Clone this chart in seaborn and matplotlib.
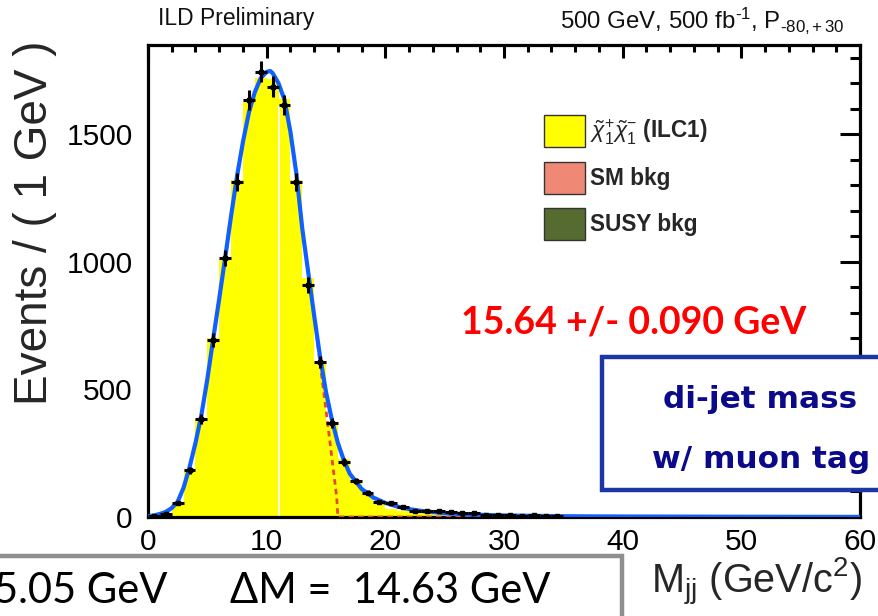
import numpy as np
import pandas as pd
import matplotlib
matplotlib.use("Agg")
import matplotlib.pyplot as plt
import seaborn as sns
from matplotlib.patches import Rectangle, Patch
from matplotlib.ticker import MultipleLocator

# ---------------- data ----------------
bin_centers = np.arange(0.5, 60, 1.0)

# data points (events / 1 GeV)
data_x = [0.5, 1.5, 2.5, 3.5, 4.5, 5.5, 6.5, 7.5, 8.5, 9.5, 10.5, 11.5, 12.5, 13.5,
          14.5, 15.5, 16.5, 17.5, 18.5, 19.5, 20.5, 21.5, 22.5, 23.5, 24.5, 25.5,
          26.5, 27.5, 28.5, 29.5, 30.5, 31.5, 32.5, 33.5, 34.5]
data_y = [3, 12, 55, 184, 386, 693, 1014, 1314, 1634, 1745, 1687, 1615, 1314, 909,
          608, 369, 216, 140, 95, 58, 55, 38, 25, 22, 24, 18,
          14, 15, 9, 8, 6, 5, 6, 4, 3]

# stacked MC histograms (per 1 GeV bin, first 30 bins; rest zero)
signal_counts = [3, 15, 60, 190, 385, 700, 1010, 1320, 1625, 1720, 1715, 1640, 1320, 935,
                 605, 372, 225, 144, 93, 54, 30, 22, 20, 18, 5, 3, 2, 1, 1, 0]
sm_bkg_counts = [0, 0, 0, 0, 0, 0, 0, 0, 0, 0, 0, 0, 0, 0,
                 0, 1, 1, 1, 1, 1, 1, 1, 1, 1, 1, 1, 0, 0, 0, 0]
susy_bkg_counts = [0, 0, 0, 0, 0, 0, 0, 0, 0, 0, 0, 0, 0, 0,
                   0, 0, 0, 1, 1, 1, 1, 1, 0, 0, 0, 0, 0, 0, 0, 0]

# total fit (blue line)
fit_x = [0, 0.5, 1, 1.5, 2, 2.5, 3, 3.5, 4, 4.5, 5, 5.5, 6, 6.5, 7, 7.5, 8, 8.5, 9, 9.5,
         10, 10.3, 10.5, 11, 11.5, 12, 12.5, 13, 13.5, 14, 14.5, 15, 15.5, 16, 16.5, 17,
         18, 19, 20, 21, 22, 23, 24, 25, 27, 30, 35, 40, 50, 60]
fit_y = [3, 6, 12, 20, 35, 60, 115, 195, 290, 400, 540, 700, 855, 1015, 1180, 1335, 1470,
         1585, 1665, 1720, 1745, 1748, 1740, 1700, 1635, 1510, 1347, 1130, 960, 790, 628,
         490, 380, 290, 223, 170, 110, 76, 55, 41, 31, 24, 19, 15, 10, 6, 3, 2, 1, 0.5]

# signal-only component (red dashed)
sig_x = [0, 0.5, 1, 1.5, 2, 2.5, 3, 3.5, 4, 4.5, 5, 5.5, 6, 6.5, 7, 7.5, 8, 8.5, 9, 9.5,
         10, 10.3, 10.5, 11, 11.5, 12, 12.5, 13, 13.5, 14, 14.5, 15, 15.5, 15.9, 16.0, 60]
sig_y = [3, 6, 12, 20, 35, 60, 115, 195, 290, 400, 540, 700, 855, 1015, 1180, 1335, 1470,
         1585, 1665, 1720, 1745, 1748, 1740, 1700, 1635, 1510, 1347, 1130, 960, 790, 602,
         420, 230, 79, 0, 0]

legend_labels = [r"$\tilde{\chi}^{+}_{1}\tilde{\chi}^{-}_{1}$ (ILC1)", "SM bkg", "SUSY bkg"]
legend_colors = ["#ffff00", "#ef8875", "#556b2f"]

# ---------------- figure ----------------
sns.set_theme(style="white")
plt.rcParams["font.family"] = ["Liberation Sans", "DejaVu Sans"]
plt.rcParams["mathtext.fontset"] = "custom"
plt.rcParams["mathtext.rm"] = "Liberation Sans"
plt.rcParams["mathtext.it"] = "Liberation Sans:italic"
plt.rcParams["mathtext.bf"] = "Liberation Sans:bold"

W, H = 879, 616
fig = plt.figure(figsize=(W / 100, H / 100), dpi=100)
fig.patch.set_facecolor("white")
ax = fig.add_axes([148 / W, (H - 517) / H, 712 / W, 472 / H])
ax.set_facecolor("white")

nb = len(signal_counts)
rows = []
for name, arr in [("signal", signal_counts), ("SM bkg", sm_bkg_counts),
                  ("SUSY bkg", susy_bkg_counts)]:
    for c, v in zip(bin_centers[:nb], arr):
        rows.append({"m": float(c), "w": float(v), "comp": name})
df = pd.DataFrame(rows)

sns.histplot(data=df, x="m", weights="w", hue="comp",
             hue_order=["signal", "SM bkg", "SUSY bkg"],
             palette={"signal": "#ffff00", "SM bkg": "#ef8875", "SUSY bkg": "#556b2f"},
             multiple="stack", binwidth=1, binrange=(0, 60), element="bars", fill=True,
             linewidth=0, alpha=1, legend=False, ax=ax)

# white line at bin boundary seen in the picture
ax.vlines(11.0, 0, 1612, color="white", lw=1.3, zorder=2)

# fit curves
fit_df = pd.DataFrame({"x": fit_x, "y": fit_y})
sig_df = pd.DataFrame({"x": sig_x, "y": sig_y})
sns.lineplot(data=sig_df, x="x", y="y", ax=ax, color="#e8463c", lw=2.0,
             linestyle=(0, (2, 1.5)), zorder=3, sort=False)
sns.lineplot(data=fit_df, x="x", y="y", ax=ax, color="#1060ff", lw=3.0, zorder=4, sort=False)

# data points with errors
dy = np.sqrt(np.array(data_y, dtype=float))
ax.errorbar(data_x, data_y, xerr=0.5, yerr=dy, fmt="s", ms=3.5, color="black",
            elinewidth=2.2, capsize=0, zorder=5)

# axes styling
ax.set_xlim(0, 60)
ax.set_ylim(0, 1850)
ax.xaxis.set_major_locator(MultipleLocator(10))
ax.xaxis.set_minor_locator(MultipleLocator(2))
ax.yaxis.set_major_locator(MultipleLocator(500))
ax.yaxis.set_minor_locator(MultipleLocator(100))
for s in ax.spines.values():
    s.set_visible(True)
    s.set_color("black")
    s.set_linewidth(2.3)
ax.tick_params(axis="both", which="both", direction="in", top=True, right=True,
               color="black", width=2.2, labelsize=21.5, labelcolor="black")
ax.tick_params(axis="y", which="major", length=14.5, pad=11)
ax.tick_params(axis="y", which="minor", length=7.5)
ax.tick_params(axis="x", which="major", length=9.5, pad=8)
ax.tick_params(axis="x", which="minor", length=5)
ax.set_xlabel("")
ax.set_ylabel("Events / ( 1 GeV )", fontsize=33, loc="top")
ax.yaxis.set_label_coords(-0.128, 1.01)

# x label
fig.text(862 / W, 1 - 582 / H, r"M$_{\rm jj}$ (GeV/c$^{2}$)", fontsize=28.5,
         ha="right", va="center")

# header texts
fig.text(158 / W, 1 - 18 / H, "ILD Preliminary", fontsize=16.5, ha="left", va="center",
         color="#111111")
fig.text(845 / W, 1 - 20 / H, "500 GeV, 500 fb$^{\u2010 1}$, P$_{\u201080{,}+30}$",
         fontsize=17.3, ha="right", va="center", color="#111111")

# legend (box geometry in pixels: 41 x 32, pitch 46.5)
fs_leg = 16.3
px_per_em = fs_leg * 100 / 72
box_h = 32.0
hh = (box_h / px_per_em - 0.245) / 0.65
handles = [Patch(facecolor=c, edgecolor="#333333", lw=1.0) for c in legend_colors]
leg = ax.legend(handles, legend_labels, loc="upper left",
                bbox_to_anchor=((544 - 148) / 712, (517 - 115) / 472),
                frameon=False, borderpad=0, borderaxespad=0,
                handlelength=41 / px_per_em, handleheight=hh,
                labelspacing=(46.5 - box_h) / px_per_em,
                handletextpad=5 / px_per_em,
                prop={"weight": "bold", "size": fs_leg})

# red result text
fig.text(461 / W, 1 - 322 / H, "15.64 +/- 0.090 GeV", fontsize=27, fontweight="bold",
         color="#ff0000", ha="left", va="center", family=["Lato", "DejaVu Sans"])

# blue box
fig.patches.append(Rectangle((602 / W, 1 - 490 / H), 0.5, (490 - 357) / H,
                             transform=fig.transFigure, facecolor="white",
                             edgecolor="#1c36a4", lw=3.2, zorder=5))
fig.text(760 / W, 1 - 408 / H, "di-jet mass", fontsize=22.4, fontweight="bold",
         color="#0a0a8a", ha="center", va="baseline", family=["DejaVu Sans"], zorder=6)
fig.text(761.5 / W, 1 - 468 / H, "w/ muon tag", fontsize=22.4, fontweight="bold",
         color="#0a0a8a", ha="center", va="baseline", family=["DejaVu Sans"], zorder=6)

# grey box at bottom-left
fig.patches.append(Rectangle((-0.02, -0.05), (622 + 18) / W, (616 - 556) / H + 0.05,
                             transform=fig.transFigure, facecolor="white",
                             edgecolor="#8f8f8f", lw=3.2, zorder=5))
fig.text(-6 / W, 1 - 591 / H, "5.05 GeV", fontsize=30, color="black",
         ha="left", va="center", family=["Lato", "DejaVu Sans"], zorder=6)
fig.text(230 / W, 1 - 591 / H, "\u0394M =  14.63 GeV", fontsize=30, color="black",
         ha="left", va="center", family=["Lato", "DejaVu Sans"], zorder=6)

fig.savefig("out.png", dpi=100)
